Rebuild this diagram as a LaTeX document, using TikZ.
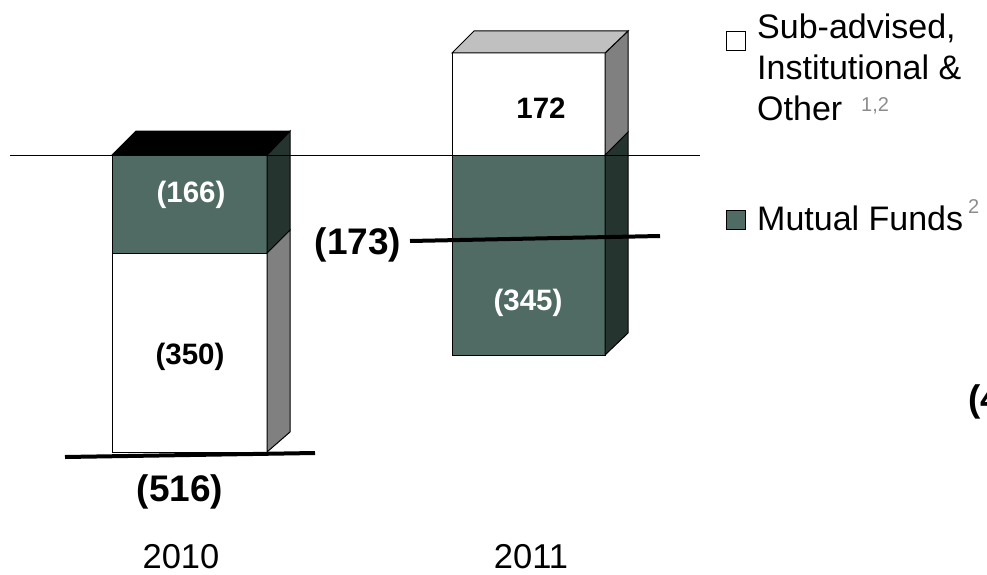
\documentclass[tikz,border=0pt]{standalone}
\usepackage{fontspec}
\setmainfont{Liberation Sans}
\definecolor{mfgreen}{HTML}{4F6B63}
\definecolor{mfdark}{HTML}{263430}
\definecolor{sidegray}{HTML}{808080}
\definecolor{topgray}{HTML}{C0C0C0}
\definecolor{supgray}{HTML}{8C8C8C}
\begin{document}
\begin{tikzpicture}[x=1pt,y=-1pt,
  face/.style={draw=black,line width=1pt,line join=miter},
  inlbl/.style={font=\fontsize{29.5}{31}\selectfont\bfseries,inner sep=0pt},
  biglbl/.style={font=\fontsize{37}{39}\selectfont\bfseries,inner sep=0pt},
  yearlbl/.style={font=\fontsize{34.5}{36}\selectfont,inner sep=0pt},
  leglbl/.style={font=\fontsize{34}{36}\selectfont,inner sep=0pt,anchor=base west},
  suplbl/.style={font=\fontsize{20}{21}\selectfont,text=supgray,inner sep=0pt,anchor=base west},
  totline/.style={line width=4pt},
  legbox/.style={draw=black,line width=1pt}]
\useasboundingbox (0,0) rectangle (987,575);

% ---- Bar 2010 ----
\fill[face,fill=white] (112,253) rectangle (267,452);
\fill[face,fill=mfgreen] (112,155) rectangle (267,253);
\filldraw[face,fill=sidegray] (267,253) -- (290,230) -- (290,432) -- (267,452) -- cycle;
\filldraw[face,fill=mfdark] (267,155) -- (290,131) -- (290,230) -- (267,253) -- cycle;
\filldraw[face,fill=black] (112,155) -- (136,131) -- (290,131) -- (267,155) -- cycle;

% ---- Bar 2011 ----
\fill[face,fill=mfgreen] (452,155) rectangle (605,355);
\fill[face,fill=white] (452,53) rectangle (605,155);
\filldraw[face,fill=mfdark] (605,155) -- (628,132) -- (628,333) -- (605,355) -- cycle;
\filldraw[face,fill=sidegray] (605,53) -- (628,31) -- (628,132) -- (605,155) -- cycle;
\filldraw[face,fill=topgray] (452,53) -- (474,31) -- (628,31) -- (605,53) -- cycle;

% baseline
\draw[line width=1pt] (10,155) -- (700,155);

% total lines
\coordinate (t1a) at (65,457);
\coordinate (t1b) at (315,453);
\draw[totline] (t1a) -- (t1b);
\coordinate (t2a) at (410,241);
\coordinate (t2b) at (660,236);
\draw[totline] (t2a) -- (t2b);

% segment labels
\node[inlbl,text=white] (l166) at (191,195) {(166)};
\node[inlbl] (l350) at (190,357) {(350)};
\node[inlbl] (l172) at (541,108) {172};
\node[inlbl,text=white] (l345) at (528,303) {(345)};

% totals
\node[biglbl] (l516) at (180,492) {(516)};
\node[biglbl] (l173) at (358,245) {(173)};
\node[biglbl,anchor=base west] (l4) at (968,411) {(4};

% years
\node[yearlbl] (y2010) at (181,557) {2010};
\node[yearlbl] (y2011) at (531,557) {2011};

% legend
\node[legbox,fill=white,minimum size=19pt,inner sep=0pt] (k1) at (735.5,41) {};
\node[leglbl] (k1a) at (757,38.5) {Sub-advised,};
\node[leglbl] (k1b) at (757,79.5) {Institutional \&};
\node[leglbl] (k1c) at (757,120.5) {Other};
\node[suplbl] (k1s) at (861,112) {1,2};
\node[legbox,fill=mfgreen,minimum size=19pt,inner sep=0pt] (k2) at (735.5,219.5) {};
\node[leglbl] (k2a) at (757,230) {Mutual Funds};
\node[suplbl] (k2s) at (968,213) {2};
\end{tikzpicture}
\end{document}
